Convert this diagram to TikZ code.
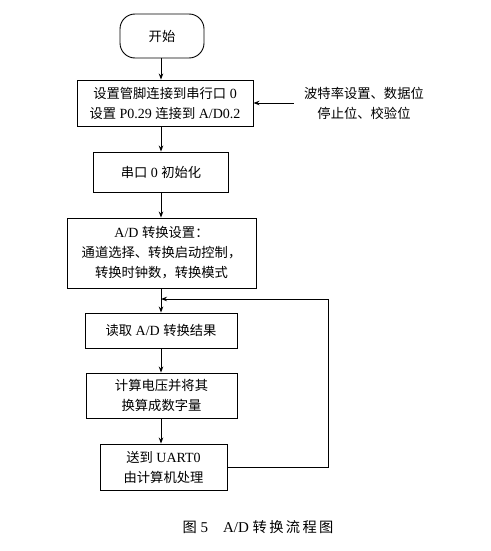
\documentclass[tikz,border=0pt]{standalone}
\usepackage{fontspec}
\setmainfont{Liberation Serif}
\newfontfamily\cjk{Noto Sans CJK SC}[Scale=0.95]
\usetikzlibrary{arrows.meta}
\begin{document}
\begin{tikzpicture}[x=1pt,y=-1pt,
  font=\fontsize{14}{20}\selectfont,
  box/.style={draw, line width=0.9pt, align=center, inner sep=0pt},
  arr/.style={-{Stealth[length=6pt,width=4.5pt]}, line width=0.9pt}]
\useasboundingbox (0,0) rectangle (490,551);
\node[box, rounded corners=15pt, minimum width=84, minimum height=44] (start) at (162,36) {\cjk 开始};
\node[box, minimum width=176, minimum height=46] (b1) at (165,103)
  {{\cjk 设置管脚连接到串行口} 0\\{\cjk 设置} P0.29 {\cjk 连接到} A/D0.2};
\node[align=center, inner xsep=10pt, inner ysep=0pt] (side) at (364,103)
  {{\cjk 波特率设置、数据位}\\{\cjk 停止位、校验位}};
\node[box, minimum width=135, minimum height=40] (b2) at (161,172) {{\cjk 串口} 0 {\cjk 初始化}};
\node[box, minimum width=189, minimum height=70] (b3) at (161.5,253)
  {A/D {\cjk 转换设置：}\\{\cjk 通道选择、转换启动控制，}\\{\cjk 转换时钟数，转换模式}};
\node[box, minimum width=152, minimum height=35] (b4) at (161,330.5) {{\cjk 读取} A/D {\cjk 转换结果}};
\node[box, minimum width=151, minimum height=45] (b5) at (161.5,395.5)
  {{\cjk 计算电压并将其}\\{\cjk 换算成数字量}};
\node[box, minimum width=127, minimum height=46] (b6) at (163.5,467)
  {{\cjk 送到} UART0\\{\cjk 由计算机处理}};
\node[font=\fontsize{15}{18}\selectfont] (cap) at (258,527)
  {{\cjk 图} 5\quad A/D {\cjk 转\,换\,流\,程\,图}};
\coordinate (j) at (161,299);
\coordinate (rt) at (328,299);
\draw[arr] (start.south -| j) -- (b1.north -| j);
\draw[arr] (side.west) -- (b1.east);
\draw[arr] (b1.south -| j) -- (b2.north -| j);
\draw[arr] (b2.south -| j) -- (b3.north -| j);
\draw[arr] (b3.south -| j) -- (b4.north -| j);
\draw[arr] (b4.south -| j) -- (b5.north -| j);
\draw[arr] (b5.south -| j) -- (b6.north -| j);
\draw[arr] (b6.east) -| (rt) -- (j);
\end{tikzpicture}
\end{document}
